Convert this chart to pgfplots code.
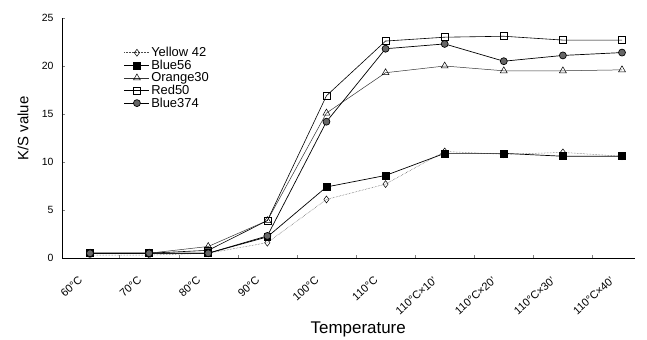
\documentclass[border=0pt]{standalone}
\usepackage{fontspec}
\setmainfont{Liberation Sans}
\usepackage{pgfplots}
\pgfplotsset{compat=1.18}
\begin{document}
\begin{tikzpicture}
\begin{axis}[
  at={(0,0)}, anchor=south west,
  scale only axis, width=573bp, height=240bp,
  xmin=-0.474, xmax=9.22, ymin=0, ymax=25,
  axis lines=left, axis line style={-, line width=0.6pt},
  ytick={0,5,10,15,20,25},
  xtick={0,...,9},
  xticklabels={60°C,70°C,80°C,90°C,100°C,110°C,110°C×10',110°C×20',110°C×30',110°C×40'},
  major x tick style={draw=none},
  minor xtick={0.5,1.5,...,8.5},
  tick align=inside,
  major tick length=3bp, minor tick length=3bp,
  /pgf/number format/assume math mode=true,
  yticklabel style={font=\fontsize{10.5}{12}\selectfont, xshift=-5bp},
  xticklabel style={font=\fontsize{11}{12}\selectfont, inner sep=1bp, xshift=-12bp, yshift=-16bp, rotate=42, anchor=north east},
  xlabel={Temperature}, xlabel style={font=\fontsize{17}{19}\selectfont, at={([yshift=-75bp]rel axis cs:0.517,0)}, anchor=base},
  ylabel={K/S value}, ylabel style={font=\fontsize{15}{17}\selectfont, at={([xshift=-39bp]rel axis cs:0,0.54)}, anchor=center},
  legend style={draw=none, fill=none, at={(rel axis cs:0.108,0.885)}, anchor=north west,
    font=\fontsize{13}{14}\selectfont, row sep=-1.2bp, inner sep=0bp,
    nodes={inner sep=1.5bp}},
  legend image code/.code={\draw[mark repeat=2,mark phase=2] plot coordinates {(0bp,0bp)(12.5bp,0bp)(25bp,0bp)};},
  legend cell align=left,
  clip=false,
]
\addplot[black!70, densely dotted, line width=0.5pt, mark=diamond, mark size=3.5pt, mark options={solid, fill=white, draw=black}] coordinates {
(0,0.3)(1,0.3)(2,0.5)(3,1.6)(4,6.1)(5,7.7)(6,11.1)(7,10.8)(8,11.0)(9,10.6)};
\addlegendentry{Yellow 42}
\addplot[black, line width=0.7pt, mark=square*, mark size=3.5pt, mark options={solid, fill=black}] coordinates {
(0,0.5)(1,0.5)(2,0.5)(3,2.2)(4,7.4)(5,8.6)(6,10.9)(7,10.9)(8,10.6)(9,10.6)};
\addlegendentry{Blue56}
\addplot[black!80, line width=0.5pt, mark=triangle, mark size=4pt, mark options={solid, fill=white, draw=black}] coordinates {
(0,0.5)(1,0.5)(2,1.2)(3,3.9)(4,15.1)(5,19.3)(6,20.0)(7,19.5)(8,19.5)(9,19.6)};
\addlegendentry{Orange30}
\addplot[black, line width=0.6pt, mark=square, mark size=3.5pt, mark options={solid, fill=white}] coordinates {
(0,0.5)(1,0.5)(2,0.8)(3,3.9)(4,16.9)(5,22.6)(6,23.0)(7,23.1)(8,22.7)(9,22.7)};
\addlegendentry{Red50}
\addplot[black, line width=0.7pt, mark=*, mark size=3.5pt, mark options={solid, fill=black!60, draw=black}] coordinates {
(0,0.5)(1,0.5)(2,0.5)(3,2.3)(4,14.2)(5,21.8)(6,22.3)(7,20.5)(8,21.1)(9,21.4)};
\addlegendentry{Blue374}
\end{axis}
\path[use as bounding box] (-62bp,-77bp) rectangle (585bp,258bp);
\end{tikzpicture}
\end{document}
